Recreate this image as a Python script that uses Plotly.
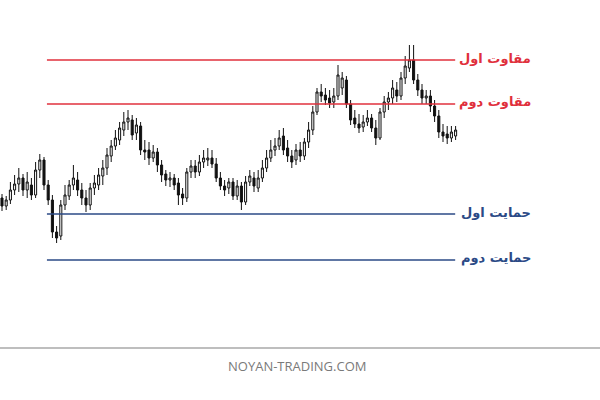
import plotly.graph_objects as go

# candle index positions
idx = list(range(109))

open_ = [202, 194, 200, 210, 216, 222, 210, 215, 205, 230, 240, 215, 200, 168, 164, 195, 204, 215, 220, 210,
         202, 195, 212, 215, 224, 232, 244, 254, 260, 270, 278, 280, 267, 274, 250, 250, 242, 248, 235, 226,
         220, 222, 217, 206, 202, 228, 234, 228, 238, 240, 242, 236, 222, 214, 212, 218, 204, 214, 198, 218,
         222, 212, 222, 232, 242, 250, 254, 264, 252, 244, 240, 250, 244, 258, 270, 288, 308, 305, 302, 298,
         304, 312, 320, 296, 282, 276, 273, 278, 282, 272, 262, 288, 298, 302, 310, 304, 322, 332, 340, 320,
         310, 302, 304, 294, 284, 268, 266, 262, 264]
close = [194, 200, 210, 216, 222, 210, 218, 205, 230, 240, 215, 200, 168, 162, 195, 205, 215, 222, 210, 202,
         195, 212, 217, 225, 232, 245, 254, 262, 272, 278, 282, 265, 275, 250, 248, 242, 248, 235, 225, 220,
         222, 215, 205, 202, 228, 234, 228, 238, 242, 242, 236, 222, 214, 210, 218, 204, 214, 198, 218, 224,
         214, 222, 232, 242, 250, 254, 262, 250, 244, 238, 250, 244, 258, 270, 288, 308, 304, 300, 297, 304,
         325, 322, 296, 280, 276, 272, 278, 282, 272, 262, 288, 298, 302, 312, 304, 322, 334, 340, 320, 310,
         302, 304, 294, 284, 268, 264, 262, 268, 270]
high = [206, 204, 218, 225, 232, 226, 228, 222, 238, 246, 243, 220, 205, 174, 200, 215, 220, 235, 228, 217,
        210, 217, 225, 232, 240, 252, 260, 270, 278, 288, 290, 285, 282, 278, 260, 258, 255, 252, 240, 230,
        228, 226, 222, 212, 232, 240, 240, 245, 250, 252, 250, 242, 228, 220, 222, 222, 220, 218, 224, 230,
        228, 230, 240, 250, 260, 262, 270, 272, 260, 250, 256, 258, 262, 278, 294, 312, 316, 312, 310, 312,
        335, 328, 324, 300, 290, 286, 285, 290, 286, 280, 292, 304, 308, 320, 318, 328, 344, 355, 355, 326,
        316, 310, 310, 300, 290, 276, 274, 274, 274]
low = [189, 190, 196, 205, 208, 204, 202, 200, 202, 222, 210, 195, 162, 157, 160, 190, 200, 210, 204, 195,
       188, 190, 205, 210, 215, 225, 238, 250, 255, 264, 270, 260, 260, 245, 240, 235, 238, 228, 218, 214,
       213, 210, 195, 195, 198, 222, 222, 224, 232, 234, 232, 218, 210, 204, 206, 200, 200, 190, 195, 214,
       208, 208, 218, 228, 238, 244, 250, 245, 238, 232, 235, 238, 240, 252, 265, 285, 298, 295, 292, 292,
       300, 305, 292, 275, 272, 267, 268, 274, 268, 255, 260, 282, 290, 296, 298, 300, 316, 328, 316, 304,
       296, 296, 288, 278, 262, 258, 256, 258, 260]

level_names = ["مقاوت اول", "مقاوت دوم", "حمایت اول", "حمایت دوم"]
level_values = [340, 296, 186, 140]
level_colors = ["#e0303c", "#e0303c", "#2b4a86", "#2b4a86"]
level_start = 10.7
level_end = 107.9

fig = go.Figure()
fig.add_trace(go.Candlestick(
    x=idx, open=open_, high=high, low=low, close=close,
    increasing=dict(line=dict(color="#111111", width=1), fillcolor="#ffffff"),
    decreasing=dict(line=dict(color="#111111", width=1), fillcolor="#111111"),
    whiskerwidth=0, showlegend=False, hoverinfo="skip",
))

for name, val, col in zip(level_names, level_values, level_colors):
    fig.add_shape(type="line", xref="x", yref="y", x0=level_start, x1=level_end,
                  y0=val, y1=val, line=dict(color=col, width=1.6))
    fig.add_annotation(x=533 / 600, xref="paper", y=val + 2, yref="y", text="<b>" + name + "</b>",
                       showarrow=False, xanchor="right", yanchor="middle",
                       font=dict(family="DejaVu Sans", size=13, color=col))

# footer separator and brand text
fig.add_shape(type="line", xref="paper", yref="paper", x0=0, x1=1, y0=1 - 348 / 400, y1=1 - 348 / 400,
              line=dict(color="#a8a8a8", width=1.5))
fig.add_annotation(x=297 / 600, xref="paper", y=1 - 366 / 400, yref="paper", text="NOYAN-TRADING.COM",
                   showarrow=False, xanchor="center", yanchor="middle",
                   font=dict(family="Open Sans", size=13, color="#7a7a7a"))

fig.update_layout(
    width=600, height=400, margin=dict(l=0, r=0, t=0, b=0),
    paper_bgcolor="white", plot_bgcolor="white",
    xaxis=dict(range=[-0.476, 142.38], visible=False, rangeslider=dict(visible=False), fixedrange=True),
    yaxis=dict(range=[0, 400], visible=False, fixedrange=True),
    showlegend=False,
)
fig.write_html("out.html", config={"displayModeBar": False},
               post_script="document.body.style.margin='0';document.body.style.overflow='hidden';")
